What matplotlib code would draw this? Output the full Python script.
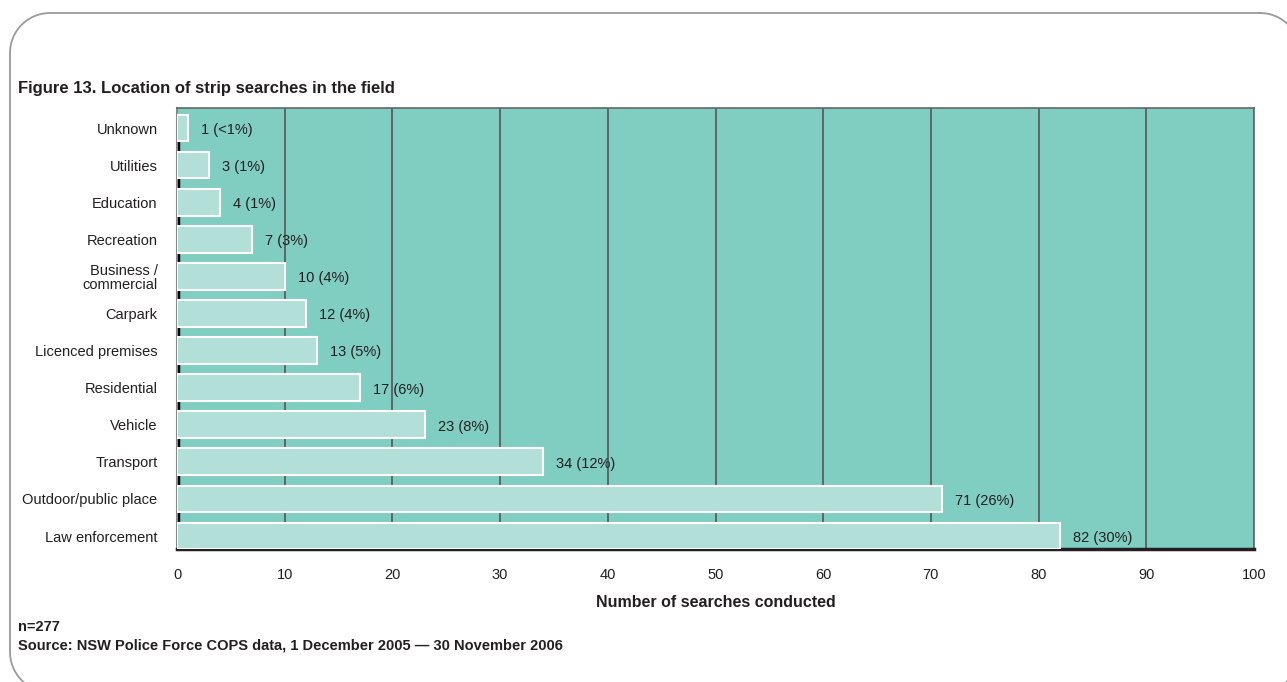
import matplotlib
matplotlib.use("Agg")
import matplotlib.pyplot as plt
import numpy as np

plt.rcParams['font.family'] = ['Liberation Sans Narrow', 'Liberation Sans', 'DejaVu Sans']

# data, top to bottom as in the figure
categories = ["Unknown", "Utilities", "Education", "Recreation", "Business /\ncommercial",
              "Carpark", "Licenced premises", "Residential", "Vehicle", "Transport",
              "Outdoor/public place", "Law enforcement"]
counts = [1, 3, 4, 7, 10, 12, 13, 17, 23, 34, 71, 82]
shares = ["<1%", "1%", "1%", "3%", "4%", "4%", "5%", "6%", "8%", "12%", "26%", "30%"]
x_ticks = [0, 10, 20, 30, 40, 50, 60, 70, 80, 90, 100]

text_col = "#231f20"
bg_col = "#80cdc1"
bar_col = "#b2dfd8"

W, H = 1287, 682
fig = plt.figure(figsize=(W / 100, H / 100), dpi=100)


def rounded_rect(x0, y0, x1, y1, r):
    # outline of a rounded rectangle, pixel coords with y down
    pts = []
    corners = [(x1 - r, y0 + r, -90, 0), (x1 - r, y1 - r, 0, 90),
               (x0 + r, y1 - r, 90, 180), (x0 + r, y0 + r, 180, 270)]
    for cx, cy, a0, a1 in corners:
        t = np.radians(np.linspace(a0, a1, 30))
        pts += list(zip(cx + r * np.cos(t), cy + r * np.sin(t)))
    pts.append(pts[0])
    return np.array(pts)


frame = fig.add_axes([0, 0, 1, 1])
frame.set_xlim(0, W)
frame.set_ylim(H, 0)
frame.axis('off')
outline = rounded_rect(10, 13, 1300, 692, 40)
frame.plot(outline[:, 0], outline[:, 1], color="#9a9a9a", lw=1.3)

ax = fig.add_axes([177 / W, 1 - 549 / H, (1254 - 177) / W, (549 - 108) / H])
ax.set_facecolor(bg_col)

n = len(categories)
ypos = list(range(n - 1, -1, -1))
bar_h = 0.72
ax.barh(ypos, counts, height=bar_h, color=bar_col, edgecolor="white", linewidth=1.5, zorder=3)

# short dark marks on the left axis in the gaps below each bar
ax.vlines([0.12] * n, [y - 1 + bar_h / 2 for y in ypos], [y - bar_h / 2 for y in ypos],
          color="black", lw=2.5, zorder=2)

for y, c, s in zip(ypos, counts, shares):
    ax.text(c + 1.2, y - 0.05, f"{c} ({s})", va="center", ha="left", fontsize=10.5,
            color=text_col, zorder=4)

ax.set_xlim(0, 100)
ax.set_ylim(-0.35, n - 0.46)
ax.set_xticks(x_ticks)
ax.set_xticklabels([str(t) for t in x_ticks], fontsize=10.5, color=text_col)
ax.set_yticks(ypos)
ax.set_yticklabels(categories, fontsize=10.5, color=text_col, linespacing=1.0)
ax.tick_params(axis='y', length=0, pad=14)
ax.tick_params(axis='x', length=0, pad=14)

ax.grid(axis='x', color="#555555", linewidth=1.2, zorder=1)
ax.set_axisbelow(True)

ax.spines['bottom'].set_color("#231f20")
ax.spines['bottom'].set_linewidth(2.5)
ax.spines['left'].set_color("#888888")
ax.spines['left'].set_linewidth(1.5)
ax.spines['top'].set_color("#666666")
ax.spines['top'].set_linewidth(1.2)
ax.spines['right'].set_color("#666666")
ax.spines['right'].set_linewidth(1.2)

ax.set_xlabel("Number of searches conducted", fontsize=11.5, fontweight="bold",
              color=text_col, labelpad=9)

fig.text(18 / W, 1 - 88 / H, "Figure 13. Location of strip searches in the field",
         fontsize=12, fontweight="bold", color=text_col, va="center")
fig.text(18 / W, 1 - 627 / H, "n=277", fontsize=10.5, fontweight="bold",
         color=text_col, va="center")
fig.text(18 / W, 1 - 645 / H, "Source: NSW Police Force COPS data, 1 December 2005 \u2014 30 November 2006",
         fontsize=10.5, fontweight="bold", color=text_col, va="center")

fig.savefig("out.png", dpi=100)
